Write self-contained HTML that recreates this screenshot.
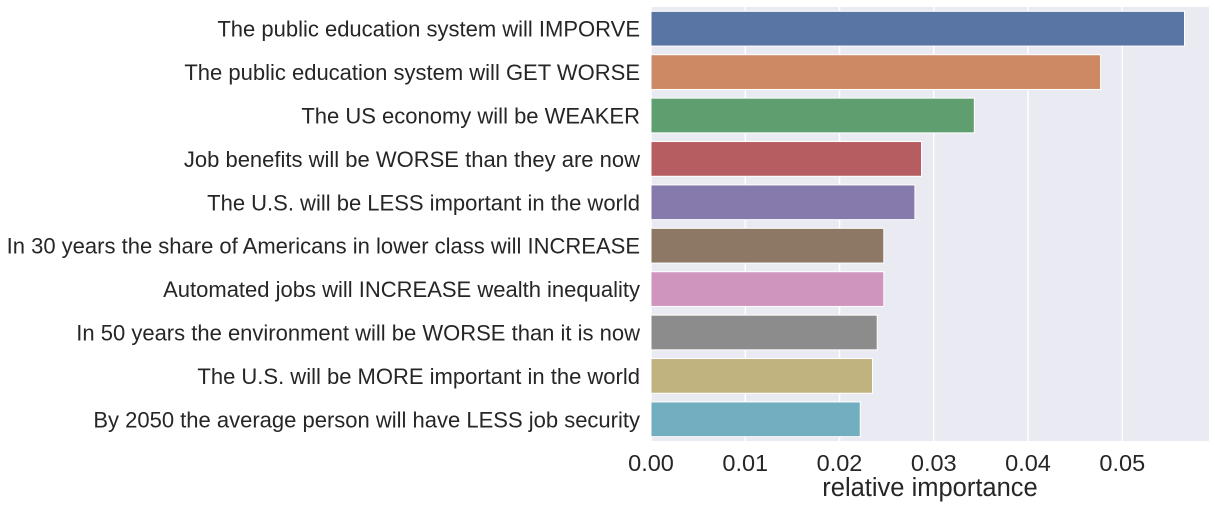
<!DOCTYPE html>
<html><head><meta charset="utf-8"><style>
html,body{margin:0;padding:0;background:#fff;}
svg{display:block;font-family:"Liberation Sans",Arial,sans-serif;}
</style></head><body>
<svg id="chart" width="1215" height="505"></svg>
<script>
const categories = ["The public education system will IMPORVE","The public education system will GET WORSE","The US economy will be WEAKER","Job benefits will be WORSE than they are now","The U.S. will be LESS important in the world","In 30 years the share of Americans in lower class will INCREASE","Automated jobs will INCREASE wealth inequality","In 50 years the environment will be WORSE than it is now","The U.S. will be MORE important in the world","By 2050 the average person will have LESS job security"];
const values = [0.0566,0.0477,0.0343,0.0287,0.0280,0.0247,0.0247,0.0240,0.0235,0.0222];
const colors = ["#5875a4","#cc8963","#5f9e6e","#b55d60","#857aab","#8d7866","#d095bf","#8c8c8c","#c1b37f","#71aec0"];
const ticks = [0,0.01,0.02,0.03,0.04,0.05];
const tickLabels = ["0.00","0.01","0.02","0.03","0.04","0.05"];

const NS="http://www.w3.org/2000/svg";
const svg=document.getElementById('chart');
const L=651,R=1209,T=7,B=441,xmax=0.0592;
const x=v=>L+v/xmax*(R-L);
const band=(B-T)/categories.length;
const y=i=>T+i*band;
function mk(t,a){const e=document.createElementNS(NS,t);for(const k in a)e.setAttribute(k,a[k]);svg.appendChild(e);return e;}
let e=mk('rect',{x:L,y:T,width:R-L,height:B-T,fill:'#eaeaf2'});


ticks.forEach((t,i)=>{
  let g=mk('line',{x1:x(t),x2:x(t),y1:T,y2:B,stroke:'#fff','stroke-width':1.5});
  
  
  let tl=mk('text',{x:x(t),y:B+30,'font-size':23.5,'text-anchor':'middle',fill:'#262626'});
  tl.textContent=tickLabels[i];
  
  
});
categories.forEach((c,i)=>{
  const h=band*0.8;
  let b=mk('rect',{x:x(0),y:y(i)+band*0.1,width:x(values[i])-x(0),height:h,fill:colors[i],stroke:'#fff','stroke-width':1});
  
  
  let t=mk('text',{x:640,y:y(i)+band/2+8,'font-size':22,'text-anchor':'end',fill:'#262626'});
  t.textContent=c;
  
  
});
let xt=mk('text',{x:(L+R)/2,y:496,'font-size':25.5,'text-anchor':'middle',fill:'#262626'});
xt.textContent='relative importance';


</script>
</body></html>
